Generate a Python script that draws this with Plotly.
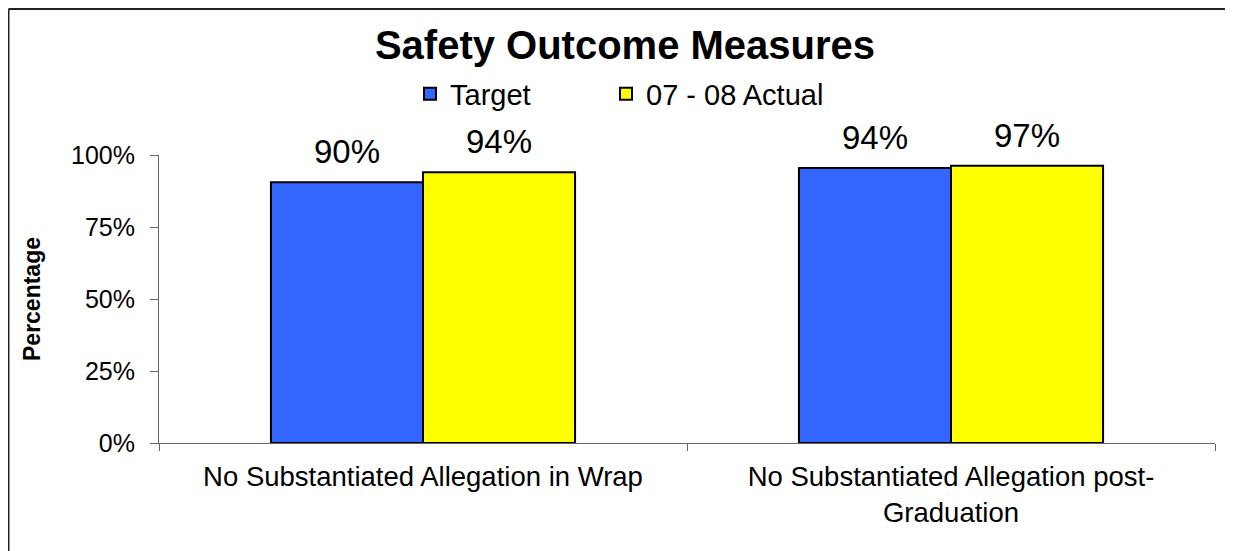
import plotly.graph_objects as go

# Data
categories = ["No Substantiated Allegation in Wrap",
              "No Substantiated Allegation post-<br>Graduation"]
target = [0.905, 0.955]
actual = [0.94, 0.963]
target_labels = ["90%", "94%"]
actual_labels = ["94%", "97%"]
series_names = ["Target", "07 - 08 Actual"]
y_ticks = [0, 0.25, 0.5, 0.75, 1.0]

W, H = 1233, 551
OFF = 8  # page body margin
ML, MR, MT, MB = 151, 26, 147, 116
PW, PH = W - ML - MR, H - MT - MB
FONT = "Liberation Sans, Arial, sans-serif"


# page pixel -> paper coordinates
def px_x(x):
    return (x - OFF - ML) / PW


def px_y(y):
    return (H - MB - (y - OFF)) / PH


fig = go.Figure()
fig.add_trace(go.Bar(x=categories, y=target, name=series_names[0], legend="legend",
                     marker=dict(color="#3366FF", line=dict(color="black", width=2))))
fig.add_trace(go.Bar(x=categories, y=actual, name=series_names[1], legend="legend2",
                     marker=dict(color="#FFFF00", line=dict(color="black", width=2))))

# value labels above the bars
for cat, v, lab in zip(categories, target, target_labels):
    fig.add_annotation(x=cat, y=v, text=lab, showarrow=False, xshift=-76,
                       yanchor="bottom", yshift=10, font=dict(size=33, color="black"))
for cat, v, lab in zip(categories, actual, actual_labels):
    fig.add_annotation(x=cat, y=v, text=lab, showarrow=False, xshift=76,
                       yanchor="bottom", yshift=10, font=dict(size=33, color="black"))

# y axis title
fig.add_annotation(xref="paper", yref="paper", x=px_x(32), y=0.5, text="<b>Percentage</b>",
                   textangle=-90, showarrow=False, xanchor="center", yanchor="middle",
                   font=dict(size=23, color="black"))

# outer frame (left and top edges)
fig.add_shape(type="line", xref="paper", yref="paper", x0=-ML / PW + 0.5 / PW, x1=1.1,
              y0=(H - MB - 1) / PH, y1=(H - MB - 1) / PH, line=dict(color="#222", width=2))
fig.add_shape(type="line", xref="paper", yref="paper", x0=-ML / PW + 0.5 / PW,
              x1=-ML / PW + 0.5 / PW, y0=(H - MB - 1) / PH, y1=-0.5,
              line=dict(color="#222", width=2))

legend_style = dict(orientation="h", xref="paper", yref="paper", xanchor="left",
                    y=px_y(94), yanchor="middle", font=dict(size=29, color="black"),
                    bgcolor="rgba(0,0,0,0)", itemclick=False, itemdoubleclick=False)

fig.update_layout(
    width=W, height=H,
    margin=dict(l=ML, r=MR, t=MT, b=MB, autoexpand=False),
    paper_bgcolor="white", plot_bgcolor="white",
    font=dict(family=FONT, color="black"),
    title=dict(text="<b>Safety Outcome Measures</b>", x=(625 - OFF) / W, xanchor="center",
               xref="container", yref="container", y=1 - (45 - OFF) / H, yanchor="middle",
               font=dict(size=40, color="black")),
    barmode="group", bargap=0.424, bargroupgap=0,
    showlegend=True,
    legend=dict(x=px_x(410), **legend_style),
    legend2=dict(x=px_x(606), **legend_style),
    xaxis=dict(showline=True, linecolor="#666", linewidth=1, ticks="outside",
               tickson="boundaries", ticklen=7, tickcolor="#666",
               tickfont=dict(size=27.5, color="black"), ticklabelstandoff=9,
               showgrid=False, zeroline=False, fixedrange=True),
    yaxis=dict(range=[0, 1], tickvals=y_ticks, tickformat=".0%", showline=True,
               linecolor="#666", linewidth=1, ticks="outside", ticklen=8,
               tickcolor="#666", tickfont=dict(size=25, color="black"),
               ticklabelstandoff=10, showgrid=False, zeroline=False, fixedrange=True),
)

fig.write_html("out.html")
